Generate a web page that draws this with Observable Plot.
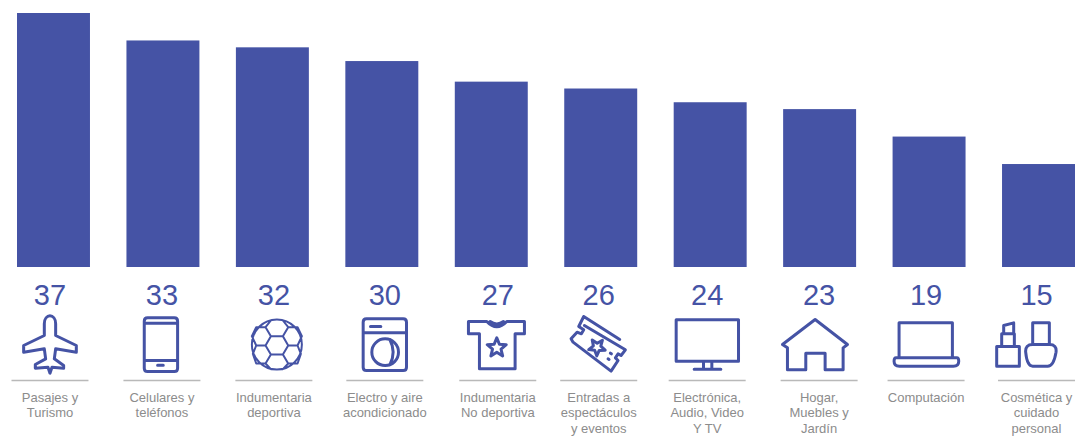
<!DOCTYPE html>
<html><head><meta charset="utf-8">
<style>html,body{margin:0;padding:0;background:#fff}svg{display:block}</style>
<script src="https://cdn.jsdelivr.net/npm/d3@7"></script>
<script src="https://cdn.jsdelivr.net/npm/@observablehq/plot@0.6"></script>
</head><body><div id="chart"></div>
<script>
const categories = ["Pasajes y\nTurismo","Celulares y\nteléfonos","Indumentaria\ndeportiva","Electro y aire\nacondicionado","Indumentaria\nNo deportiva","Entradas a\nespectáculos\ny eventos","Electrónica,\nAudio, Video\nY TV","Hogar,\nMuebles y\nJardín","Computación","Cosmética y\ncuidado\npersonal"];
const values = [37,33,32,30,27,26,24,23,19,15];
// layout: how far each footer column sits from its bar
const slotShift = [-4,-1.5,1,2.5,6,-2.5,-3.5,-1,-3.5,-2.5];
const iconShift = [-4,-2.5,4,2.5,5,-2.5,-3.5,-5,-3.5,-13];

const BLUE="#4553a5", GREY="#8c8c8c", RULE="#b9b9b9";
function star(cx,cy,r,rot=0){let s="";for(let i=0;i<10;i++){const a=(-90+36*i+rot)*Math.PI/180,q=i%2?r*.45:r;s+=(i?"L":"M")+(cx+q*Math.cos(a)).toFixed(1)+" "+(cy+q*Math.sin(a)).toFixed(1)+" ";}return s+"Z ";}
// icon outlines, in 3x units around a local centre
const icons=[
 {c:[149,222],d:"M132 160 C132 128 166 128 166 160 L166 195 L228 225 L228 245 L166 235 L162 265 L190 285 L190 293 L155 290 L149 308 L143 290 L105 293 L105 282 L136 265 L132 235 L70 245 L70 225 L132 195 Z"},
 {c:[480,222],d:"M440 142 L520 142 Q530 142 530 152 L530 293 Q530 303 520 303 L440 303 Q430 303 430 293 L430 152 Q430 142 440 142 Z M430 158 L530 158 M430 270 L530 270 M470 284 L487 284"},
 {c:[830,222],w:2,d:"O830 222 75 M812 197 L848 197 L864 225 L848 252 L812 252 L796 225 Z M812 197 L796 170 L812 150 M848 197 L864 170 L848 150 M812 252 L796 279 L812 296 M848 252 L864 279 L848 296 M796 170 L768 170 L755 197 M796 225 L768 225 L755 197 M768 225 L758 250 M796 279 L768 279 L758 250 M864 170 L892 170 L905 197 M864 225 L892 225 L905 197 M892 225 L902 250 M864 279 L892 279 L902 250"},
 {c:[105,222],d:"M50 145 L160 145 Q170 145 170 155 L170 290 Q170 300 160 300 L50 300 Q40 300 40 290 L40 155 Q40 145 50 145 Z M40 187 L170 187 M62 168 L93 168 O106 245 40 M120 207 Q140 245 120 283"},
 {c:[440,222],d:"M355 153 L410 153 Q440 185 470 153 L523 153 L523 190 L495 190 L495 295 L388 295 L388 190 L355 190 Z M420 153 Q440 168 460 153 "+star(440,232,30)},
 {c:[745,222],d:"M700 138 L685 168 L700 178 L693 190 L680 185 L662 205 L668 215 L782 302 L803 270 L795 262 L803 250 L812 255 L825 238 L702 165 M700 138 L808 207 M780 248 L783 250 M773 265 L776 267 "+star(740,230,26,38)},
 {c:[1071,222],d:"M978 148 L1165 148 L1165 272 L978 272 Z M1060 272 L1060 296 M1085 272 L1085 296 M1032 296 L1112 296"},
 {c:[253,222],d:"M253 147 L350 222 L337 232 L337 298 L283 298 L283 248 L225 248 L225 298 L170 298 L170 232 L155 222 Z"},
 {c:[588,222],d:"M507 262 L507 157 L667 157 L667 262 M498 262 L680 262 Q686 262 686 272 Q686 287 670 287 L508 287 Q492 287 492 272 Q492 262 498 262 Z"},
 {c:[885,222],d:"M797 228 L865 228 L865 287 L797 287 Z M812 228 L812 190 L850 190 L850 228 M818 190 L818 165 L848 157 L848 190 M905 222 L905 157 L955 157 L955 222 M905 222 L955 222 Q978 222 975 245 Q968 287 950 287 L905 287 Q888 287 884 245 Q882 222 905 222 Z"}
].map(ic=>({strokeWidth:ic.w||3,symbol:{draw(ctx){
  const [cx,cy]=ic.c,t=ic.d.match(/[MLQCZO]|-?[\d.]+/g);let i=0;const n=()=>+t[i++],X=()=>(n()-cx)/3,Y=()=>(n()-cy)/3;
  while(i<t.length){const k=t[i++];
   if(k==="M"){const a=X(),b=Y();ctx.moveTo(a,b);}
   else if(k==="L"){const a=X(),b=Y();ctx.lineTo(a,b);}
   else if(k==="Q"){const a=X(),b=Y(),c=X(),d=Y();ctx.quadraticCurveTo(a,b,c,d);}
   else if(k==="C"){const a=X(),b=Y(),c=X(),d=Y(),e=X(),f=Y();ctx.bezierCurveTo(a,b,c,d,e,f);}
   else if(k==="Z")ctx.closePath();
   else if(k==="O"){const a=X(),b=Y(),r=n()/3;ctx.moveTo(a+r,b);ctx.arc(a,b,r,0,2*Math.PI);}
  }}}}));
const ruleSymbol={draw(ctx){ctx.moveTo(-38.5,0);ctx.lineTo(38.5,0);}};

const rows=categories.map((category,i)=>({category,value:values[i],i}));
const base=()=>0;
const fx=d=>d.category;
const font="Liberation Sans, Arial, sans-serif";

document.getElementById("chart").append(Plot.plot({
  width:1087,height:436,marginLeft:17,marginRight:12,marginTop:13,marginBottom:169,
  style:{background:"#fff",fontFamily:font},
  x:{domain:categories,range:[17,1075],paddingInner:1/3,paddingOuter:0,round:false,axis:null},
  y:{domain:[0,37],range:[267,13],axis:null},
  marks:[
    Plot.barY(rows,{x:fx,y:"value",fill:BLUE}),
    ...rows.flatMap(r=>[
      Plot.text([r],{x:fx,y:base,text:d=>String(d.value),dx:slotShift[r.i],dy:28.5,fontSize:29,fill:BLUE,textAnchor:"middle"}),
      Plot.dot([r],{x:fx,y:base,dx:iconShift[r.i],dy:77,r:1,symbol:icons[r.i].symbol,stroke:BLUE,strokeWidth:icons[r.i].strokeWidth,fill:"none",strokeLinejoin:"round",strokeLinecap:"round"}),
      Plot.dot([r],{x:fx,y:base,dx:slotShift[r.i],dy:113,r:1,symbol:ruleSymbol,stroke:RULE,strokeWidth:1.5,fill:"none"}),
      Plot.text([r],{x:fx,y:base,text:d=>d.category,dx:slotShift[r.i],dy:123,fontSize:13,lineHeight:1.2,lineAnchor:"top",fill:GREY,textAnchor:"middle"})
    ])
  ]
}));
</script></body></html>
